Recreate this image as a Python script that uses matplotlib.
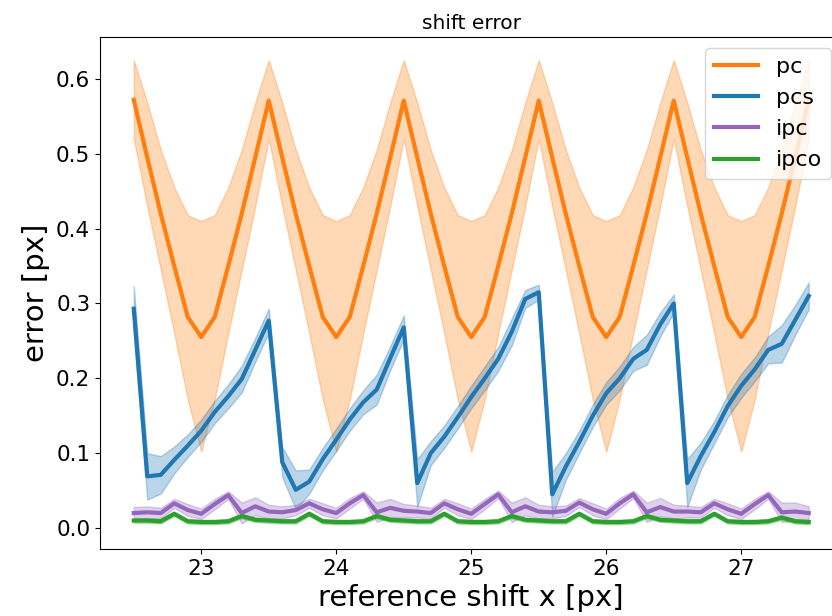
import numpy as np
from matplotlib import pyplot as plt

# reference shifts
shift_x = np.round(np.arange(22.5, 27.51, 0.1), 1)

# pc: mean and band
pc_mean = [0.572, 0.495, 0.42, 0.35, 0.282, 0.255, 0.282, 0.35, 0.42, 0.495,
           0.571, 0.495, 0.42, 0.35, 0.282, 0.255, 0.282, 0.35, 0.42, 0.495,
           0.571, 0.495, 0.42, 0.35, 0.282, 0.255, 0.282, 0.35, 0.42, 0.495,
           0.571, 0.495, 0.42, 0.35, 0.282, 0.255, 0.282, 0.35, 0.42, 0.495,
           0.571, 0.495, 0.42, 0.35, 0.282, 0.255, 0.282, 0.35, 0.42, 0.495,
           0.572]
pc_hi = [0.625, 0.568, 0.505, 0.455, 0.418, 0.41, 0.418, 0.455, 0.505, 0.568,
         0.625, 0.568, 0.505, 0.455, 0.418, 0.41, 0.418, 0.455, 0.505, 0.568,
         0.625, 0.568, 0.505, 0.455, 0.418, 0.41, 0.418, 0.455, 0.505, 0.568,
         0.625, 0.568, 0.505, 0.455, 0.418, 0.41, 0.418, 0.455, 0.505, 0.568,
         0.625, 0.568, 0.505, 0.455, 0.418, 0.41, 0.418, 0.455, 0.505, 0.568,
         0.625]
pc_lo = [0.52, 0.43, 0.345, 0.26, 0.172, 0.102, 0.172, 0.26, 0.345, 0.43,
         0.52, 0.43, 0.345, 0.26, 0.172, 0.102, 0.172, 0.26, 0.345, 0.43,
         0.52, 0.43, 0.345, 0.26, 0.172, 0.102, 0.172, 0.26, 0.345, 0.43,
         0.52, 0.43, 0.345, 0.26, 0.172, 0.102, 0.172, 0.26, 0.345, 0.43,
         0.52, 0.43, 0.345, 0.26, 0.172, 0.102, 0.172, 0.26, 0.345, 0.43,
         0.52]

# pcs
pcs_mean = [0.293, 0.069, 0.071, 0.091, 0.110, 0.130, 0.155, 0.176, 0.199, 0.238,
            0.277, 0.088, 0.051, 0.062, 0.092, 0.118, 0.145, 0.168, 0.185, 0.227,
            0.268, 0.060, 0.100, 0.122, 0.148, 0.175, 0.200, 0.226, 0.262, 0.306,
            0.315, 0.045, 0.082, 0.115, 0.150, 0.180, 0.200, 0.226, 0.238, 0.272,
            0.300, 0.060, 0.096, 0.128, 0.163, 0.190, 0.212, 0.238, 0.246, 0.278,
            0.310]
pcs_err = [0.03, 0.031, 0.025, 0.018, 0.015, 0.015, 0.015, 0.016, 0.018, 0.016,
           0.016, 0.02, 0.026, 0.016, 0.015, 0.015, 0.015, 0.016, 0.02, 0.016,
           0.016, 0.032, 0.016, 0.015, 0.015, 0.015, 0.016, 0.016, 0.018, 0.012,
           0.01, 0.03, 0.018, 0.015, 0.015, 0.015, 0.016, 0.016, 0.02, 0.016,
           0.012, 0.032, 0.018, 0.015, 0.015, 0.016, 0.016, 0.018, 0.025, 0.02,
           0.018]

# ipc
ipc_mean = [0.020, 0.021, 0.020, 0.033, 0.024, 0.019, 0.032, 0.044, 0.020, 0.029,
            0.022, 0.021, 0.024, 0.033, 0.025, 0.020, 0.033, 0.044, 0.021, 0.027,
            0.023, 0.022, 0.020, 0.033, 0.025, 0.019, 0.032, 0.045, 0.021, 0.029,
            0.022, 0.021, 0.023, 0.034, 0.025, 0.019, 0.033, 0.045, 0.021, 0.028,
            0.022, 0.022, 0.021, 0.033, 0.025, 0.019, 0.032, 0.044, 0.021, 0.022,
            0.020]
ipc_err = [0.008, 0.008, 0.007, 0.006, 0.008, 0.007, 0.007, 0.005, 0.014, 0.012,
           0.009, 0.008, 0.007, 0.006, 0.008, 0.007, 0.007, 0.005, 0.013, 0.012,
           0.009, 0.008, 0.007, 0.006, 0.008, 0.007, 0.007, 0.005, 0.013, 0.012,
           0.009, 0.008, 0.007, 0.006, 0.008, 0.007, 0.007, 0.005, 0.013, 0.012,
           0.009, 0.008, 0.007, 0.006, 0.008, 0.007, 0.007, 0.005, 0.013, 0.012,
           0.009]

# ipco
ipco_mean = [0.010, 0.010, 0.009, 0.019, 0.009, 0.008, 0.008, 0.009, 0.016, 0.011,
             0.010, 0.009, 0.009, 0.019, 0.009, 0.008, 0.008, 0.009, 0.016, 0.011,
             0.010, 0.009, 0.009, 0.019, 0.009, 0.008, 0.008, 0.009, 0.016, 0.011,
             0.010, 0.009, 0.009, 0.019, 0.009, 0.008, 0.008, 0.009, 0.016, 0.011,
             0.010, 0.009, 0.009, 0.019, 0.009, 0.008, 0.008, 0.009, 0.014, 0.009,
             0.008]
ipco_err = [0.003] * 51

series = [("pc", pc_mean, pc_lo, pc_hi, "tab:orange"),
          ("pcs", pcs_mean, np.subtract(pcs_mean, pcs_err), np.add(pcs_mean, pcs_err), "tab:blue"),
          ("ipc", ipc_mean, np.subtract(ipc_mean, ipc_err), np.add(ipc_mean, ipc_err), "tab:purple"),
          ("ipco", ipco_mean, np.subtract(ipco_mean, ipco_err), np.add(ipco_mean, ipco_err), "tab:green")]

fig = plt.figure(figsize=(8.32, 6.16), dpi=100)
ax = fig.add_axes([0.1202, 0.1088, 0.8924, 0.8312])

for name, mean, lo, hi, col in series:
    ax.plot(shift_x, mean, color=col, lw=3, label=name)
    ax.fill_between(shift_x, lo, hi, color=col, alpha=0.3)

ax.set_xlim(22.25, 27.75)
ax.set_ylim(-0.028, 0.656)
ax.set_xticks([23, 24, 25, 26, 27])
ax.set_yticks([0.0, 0.1, 0.2, 0.3, 0.4, 0.5, 0.6])
ax.tick_params(labelsize=15.5)
ax.set_title("shift error", fontsize=14.5)
ax.set_xlabel("reference shift x [px]", fontsize=21)
ax.set_ylabel("error [px]", fontsize=21)
ax.legend(loc="upper right", fontsize=16)

fig.savefig("out.png", dpi=100)
